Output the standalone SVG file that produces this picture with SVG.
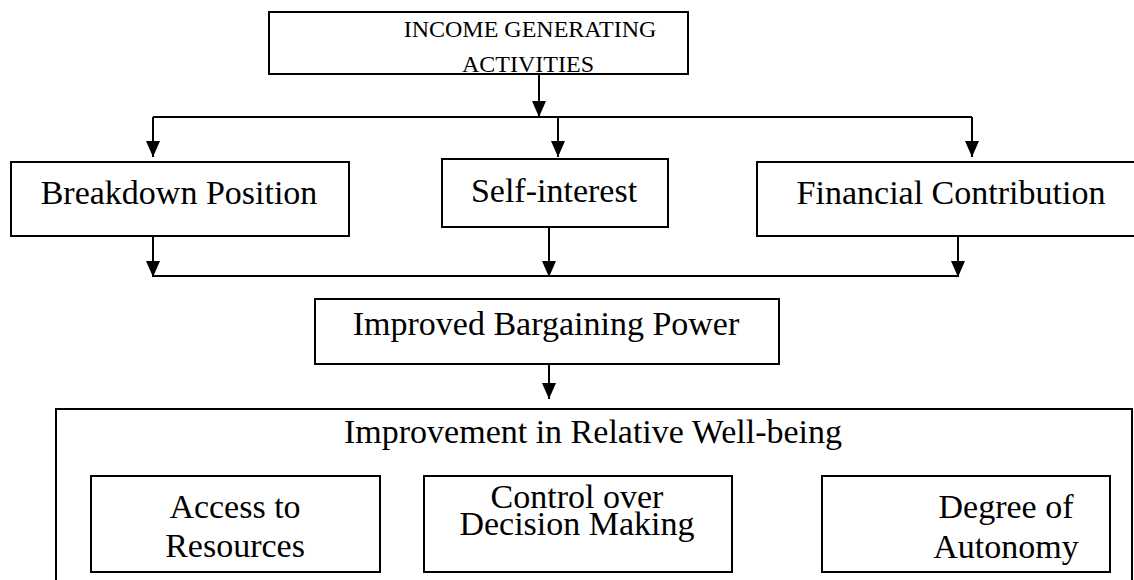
<svg xmlns="http://www.w3.org/2000/svg" width="1134" height="580" viewBox="0 0 1134 580">
<style>
.box{fill:#fff;stroke:#000;stroke-width:2}
.t{font-family:"Liberation Serif","Times New Roman",serif;fill:#000;text-anchor:middle;font-size:34px}
.s{font-size:24px}
.c{fill:none;stroke:#000;stroke-width:2}
</style>
<defs>
<marker id="ah" viewBox="0 0 16 14" refX="16" refY="7" markerWidth="16" markerHeight="14" markerUnits="userSpaceOnUse" orient="auto">
<path d="M0,0 L16,7 L0,14 Z" fill="#000"/>
</marker>
</defs>
<rect width="1134" height="580" fill="#fff"/>
<g id="connectors">
<path class="c" d="M539,74 V117" marker-end="url(#ah)"/>
<path class="c" d="M153,117 H972"/>
<path class="c" d="M153,117 V157" marker-end="url(#ah)"/>
<path class="c" d="M558,117 V157" marker-end="url(#ah)"/>
<path class="c" d="M972,117 V157" marker-end="url(#ah)"/>
<path class="c" d="M153,236 V277" marker-end="url(#ah)"/>
<path class="c" d="M549,227 V277" marker-end="url(#ah)"/>
<path class="c" d="M958,236 V277" marker-end="url(#ah)"/>
<path class="c" d="M153,276 H958"/>
<path class="c" d="M549,364 V399" marker-end="url(#ah)"/>
</g>
<g id="income">
<rect class="box" x="269" y="12" width="419" height="62"/>
<text class="t s" x="530" y="37">INCOME GENERATING</text>
<text class="t s" x="528" y="72">ACTIVITIES</text>
</g>
<g id="breakdown">
<rect class="box" x="11" y="162" width="338" height="74"/>
<text class="t" x="179" y="204">Breakdown Position</text>
</g>
<g id="selfinterest">
<rect class="box" x="442" y="159" width="226" height="68"/>
<text class="t" x="554" y="202">Self-interest</text>
</g>
<g id="financial">
<rect class="box" x="757" y="162" width="380" height="74"/>
<text class="t" x="951" y="204">Financial Contribution</text>
</g>
<g id="bargaining">
<rect class="box" x="315" y="299" width="464" height="65"/>
<text class="t" x="546" y="335">Improved Bargaining Power</text>
</g>
<g id="wellbeing">
<rect class="box" x="56" y="409" width="1076" height="190"/>
<text class="t" x="593" y="443">Improvement in Relative Well-being</text>
</g>
<g id="access">
<rect class="box" x="91" y="476" width="289" height="96"/>
<text class="t" x="235" y="518">Access to</text>
<text class="t" x="235" y="557">Resources</text>
</g>
<g id="control">
<rect class="box" x="424" y="476" width="308" height="96"/>
<text class="t" x="577" y="508">Control over</text>
<text class="t" x="577" y="535">Decision Making</text>
</g>
<g id="autonomy">
<rect class="box" x="822" y="476" width="288" height="96"/>
<text class="t" x="1006" y="518">Degree of</text>
<text class="t" x="1006" y="558">Autonomy</text>
</g>
</svg>
